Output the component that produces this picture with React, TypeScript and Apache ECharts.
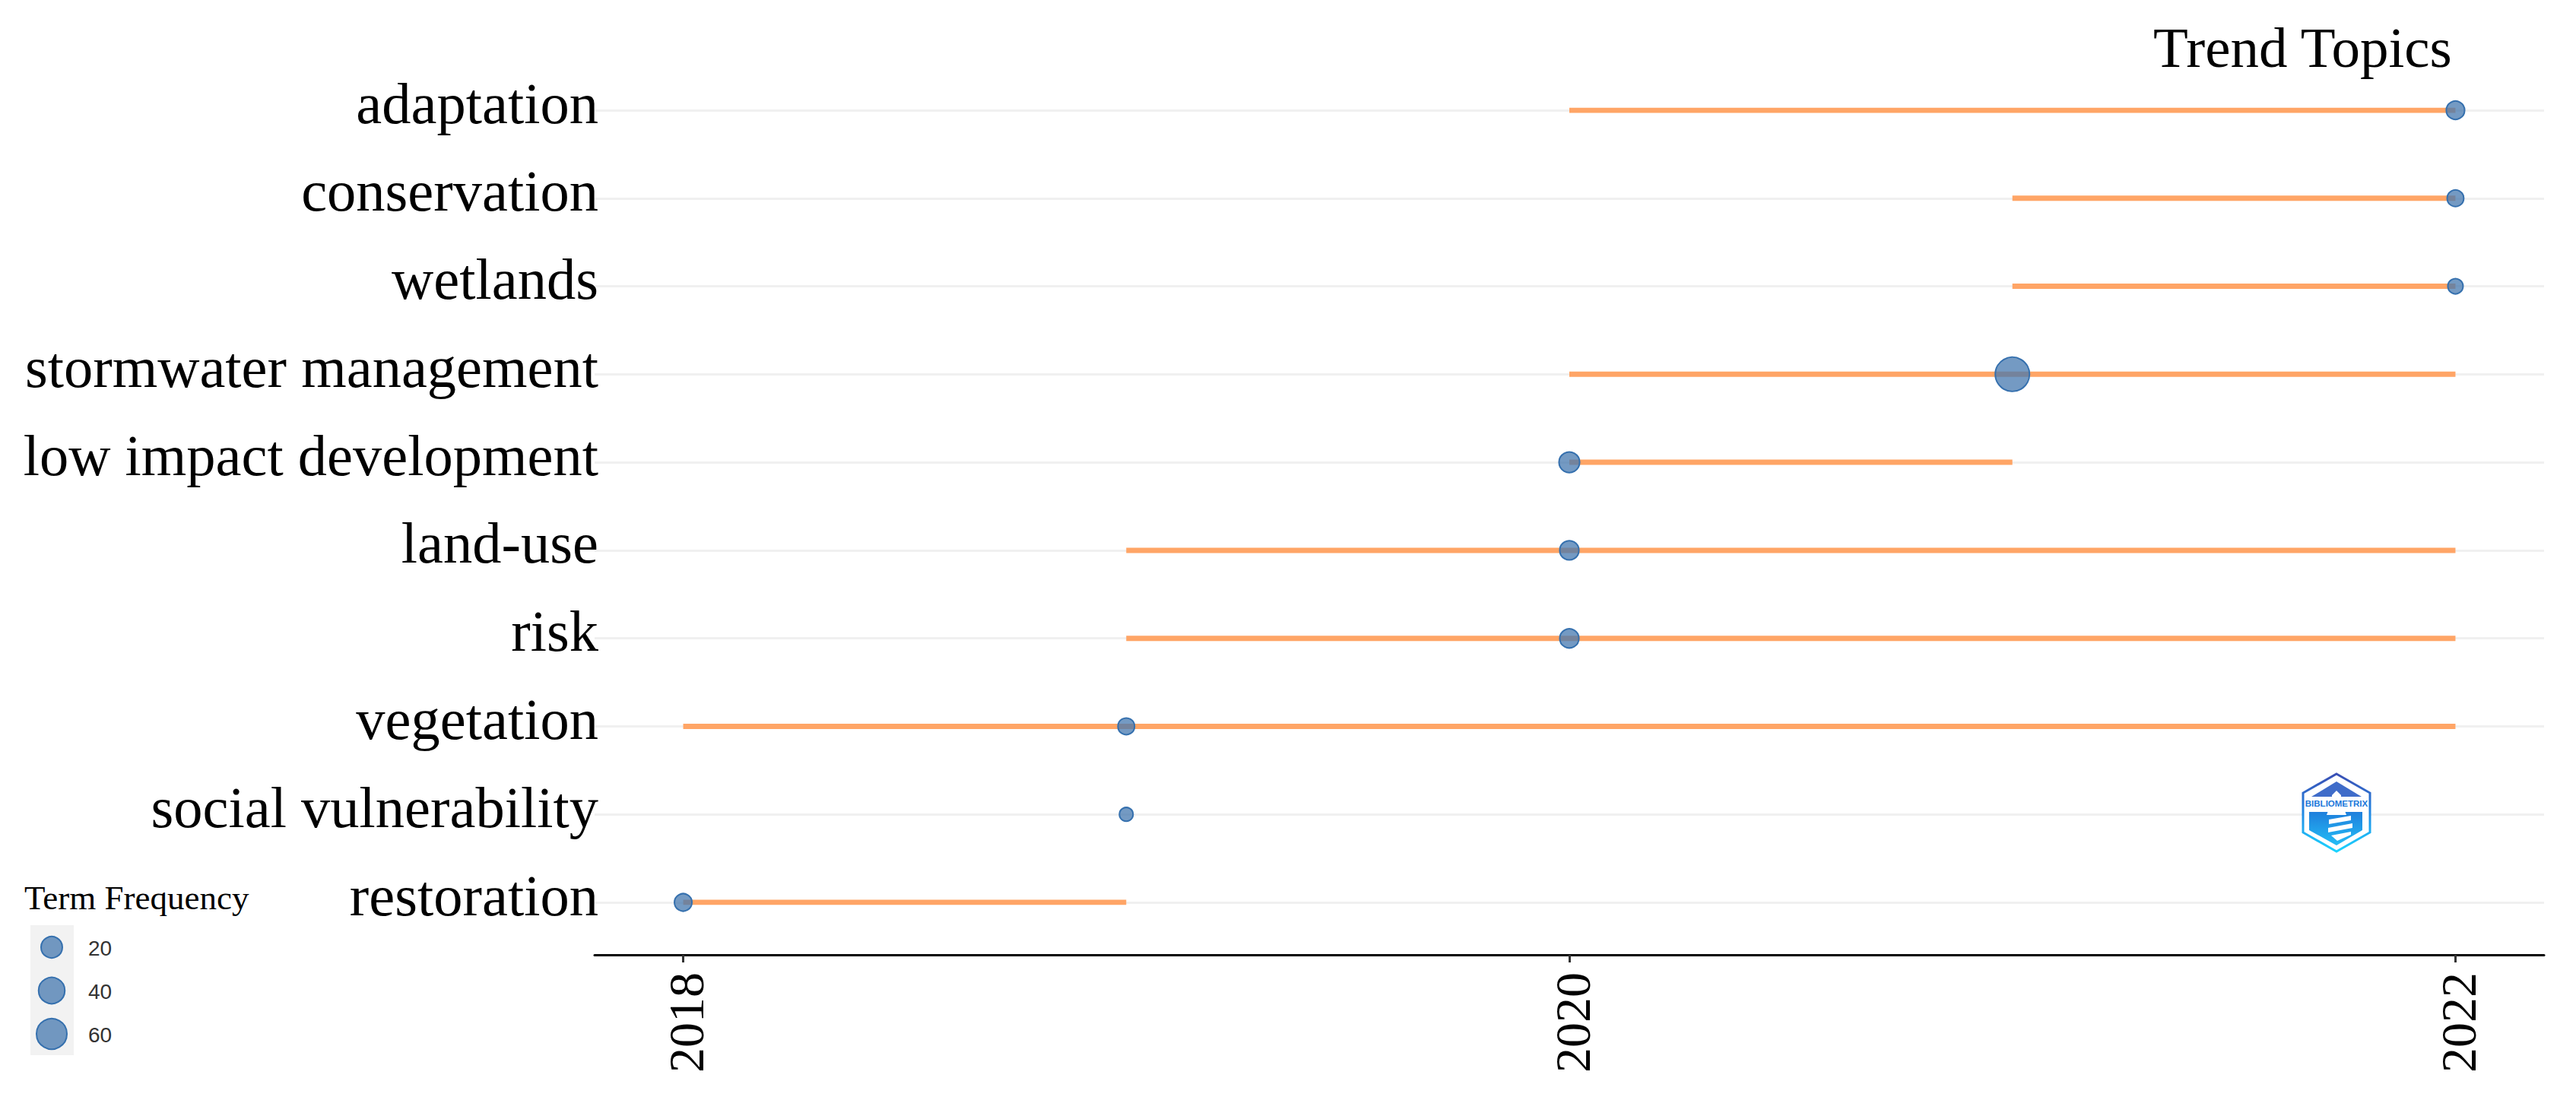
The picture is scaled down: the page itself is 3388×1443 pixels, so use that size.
import { useEffect, useRef } from "react";
import * as echarts from "echarts";

// rows read top to bottom
const terms = [
  "adaptation",
  "conservation",
  "wetlands",
  "stormwater management",
  "low impact development",
  "land-use",
  "risk",
  "vegetation",
  "social vulnerability",
  "restoration",
];
const yearStart = [2020, 2021, 2021, 2020, 2020, 2019, 2019, 2018, 2019, 2018];
const yearEnd = [2022, 2022, 2022, 2022, 2021, 2022, 2022, 2022, 2019, 2019];
const yearMedian = [2022, 2022, 2022, 2021, 2020, 2020, 2020, 2019, 2019, 2018];
const frequency = [16, 12, 9, 72, 22, 18, 18, 12, 6, 14];
const yearTicks = [2018, 2020, 2022];
const legendFrequency = [20, 40, 60];

const SERIF = "Liberation Serif";
const SANS = "Liberation Sans";
const POINT_FILL = "rgba(70,120,175,0.75)";
const POINT_BORDER = "#3570ae";

// circle area grows linearly with the frequency
const pointSize = (f: number) => Math.sqrt(169 + 25.8 * f);
// the legend keys are drawn a bit bigger than the points of the plot
const legendSize = (f: number) => Math.sqrt(468 + 21.6 * f);

function legendGraphics(): any[] {
  const out: any[] = [
    {
      type: "text",
      x: 32,
      y: 1181,
      style: { text: "Term Frequency", font: `45px "${SERIF}"`, fill: "#000", textAlign: "left", textVerticalAlign: "middle" },
    },
    { type: "rect", shape: { x: 40, y: 1217, width: 57, height: 171 }, style: { fill: "#f2f2f2" } },
  ];
  legendFrequency.forEach((f, i) => {
    const cy = 1246 + i * 57;
    out.push({
      type: "circle",
      shape: { cx: 68, cy, r: legendSize(f) / 2 - 1 },
      style: { fill: POINT_FILL, stroke: POINT_BORDER, lineWidth: 2 },
    });
    out.push({
      type: "text",
      x: 116,
      y: cy + 1,
      style: { text: String(f), font: `28px "${SANS}"`, fill: "#333", textAlign: "left", textVerticalAlign: "middle" },
    });
  });
  return out;
}

function logoGraphics(): any[] {
  const rim = new echarts.graphic.LinearGradient(0, 0, 0, 1, [
    { offset: 0, color: "#3a4fb4" },
    { offset: 0.5, color: "#2288e4" },
    { offset: 1, color: "#1cd4ff" },
  ]);
  const body = new echarts.graphic.LinearGradient(0, 0, 0, 1, [
    { offset: 0, color: "#1f7fdc" },
    { offset: 1, color: "#24bdf6" },
  ]);
  const stripe = (points: number[][]) => ({ type: "polygon", shape: { points }, style: { fill: "#fff" } });
  return [
    {
      type: "polygon",
      shape: { points: [[3073, 1018], [3117, 1043], [3117, 1095], [3073, 1120], [3029, 1095], [3029, 1043]] },
      style: { fill: "#fff", stroke: rim, lineWidth: 3 },
    },
    {
      type: "polygon",
      shape: { points: [[3073, 1028], [3106, 1048], [3040, 1048]] },
      style: { fill: "#3f6cc9" },
    },
    {
      type: "polygon",
      shape: { points: [[3037, 1068], [3107, 1068], [3107, 1092], [3073, 1112], [3037, 1092]] },
      style: { fill: body },
    },
    // lighthouse head
    stripe([[3073, 1040], [3079, 1046], [3079, 1050], [3067, 1050], [3067, 1046]]),
    stripe([[3063, 1064], [3083, 1064], [3086, 1072], [3060, 1072]]),
    // slanted bands of the tower
    stripe([[3063, 1078], [3092, 1073], [3092, 1079], [3063, 1084]]),
    stripe([[3062, 1089], [3094, 1083], [3094, 1089], [3062, 1095]]),
    stripe([[3066, 1099], [3092, 1094], [3092, 1098], [3074, 1106]]),
    {
      type: "text",
      x: 3073,
      y: 1057,
      style: { text: "BIBLIOMETRIX", font: `bold 11.5px "${SANS}"`, fill: "#1c78da", textAlign: "center", textVerticalAlign: "middle" },
    },
  ];
}

export default function App() {
  const chartRef = useRef<HTMLDivElement>(null);

  useEffect(() => {
    const chart = echarts.init(chartRef.current, null, { renderer: "svg" });

    const ranges = terms.map((term, i) => ({
      type: "line",
      name: term,
      data: [
        [yearStart[i], term],
        [yearEnd[i], term],
      ],
      showSymbol: false,
      silent: true,
      clip: false,
      z: 2,
      lineStyle: { color: "#ffa566", width: 7, cap: "butt" },
    }));

    chart.setOption({
      animation: false,
      backgroundColor: "#fff",
      title: {
        text: "Trend Topics",
        left: 2832,
        top: 25,
        padding: 0,
        textStyle: { fontFamily: SERIF, fontSize: 75, fontWeight: "normal", color: "#000" },
      },
      grid: { left: 782, right: 42, top: 145, bottom: 256 },
      xAxis: {
        type: "value",
        position: "bottom",
        offset: 69,
        min: 2017.8,
        max: 2022.2,
        axisLine: { show: true, lineStyle: { color: "#000", width: 3 } },
        axisTick: { show: true, customValues: yearTicks, length: 10, lineStyle: { color: "#333", width: 3 } },
        axisLabel: {
          customValues: yearTicks,
          rotate: 90,
          margin: 23,
          color: "#000",
          fontFamily: SERIF,
          fontSize: 66,
          // small line box: nudges the rotated digits onto the tick
          verticalAlign: "top",
          lineHeight: 8,
          formatter: (v: number) => String(v),
        },
        splitLine: { show: false },
      },
      yAxis: {
        type: "category",
        inverse: true,
        boundaryGap: false,
        data: terms,
        axisLine: { show: false },
        axisTick: { show: false },
        axisLabel: {
          interval: 0,
          margin: -5,
          color: "#000",
          fontFamily: SERIF,
          fontSize: 76.5,
          // labels sit above their grid line, not centred on it
          verticalAlign: "bottom",
          lineHeight: 18,
        },
        splitLine: { show: true, interval: 0, lineStyle: { color: "#f0f0f0", width: 3 } },
      },
      series: [
        ...ranges,
        {
          type: "scatter",
          data: terms.map((term, i) => [yearMedian[i], term]),
          symbolSize: (_: any, params: any) => pointSize(frequency[params.dataIndex]),
          silent: true,
          clip: false,
          z: 3,
          itemStyle: { color: POINT_FILL, borderColor: POINT_BORDER, borderWidth: 2, opacity: 1 },
        },
      ],
      graphic: [...legendGraphics(), ...logoGraphics()].map((el) => ({ ...el, z: 100, silent: true })),
    });

    return () => {
      chart.dispose();
    };
  }, []);

  return (
    <div
      ref={chartRef}
      style={{ position: "absolute", left: 0, top: 0, width: 3388, height: 1443 }}
    ></div>
  );
}
